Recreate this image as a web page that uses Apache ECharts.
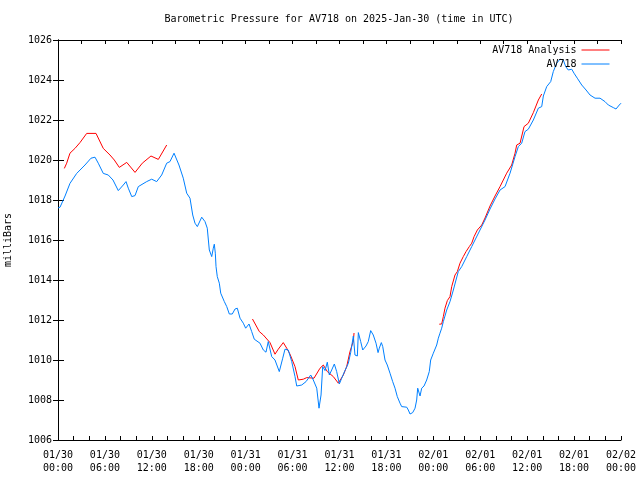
<!DOCTYPE html>
<html><head><meta charset="utf-8">
<script src="https://cdn.jsdelivr.net/npm/echarts@6/dist/echarts.min.js"></script>
<style>html,body{margin:0;padding:0;background:#fff}#c{width:640px;height:480px}</style>
</head><body><div id="c"></div>
<script>
var titleText = 'Barometric Pressure for AV718 on 2025-Jan-30 (time in UTC)';
var yAxisName = 'milliBars';
var seriesNames = ['AV718 Analysis', 'AV718'];
var tickLabels = ['01/30\n00:00','01/30\n06:00','01/30\n12:00','01/30\n18:00','01/31\n00:00','01/31\n06:00','01/31\n12:00','01/31\n18:00','02/01\n00:00','02/01\n06:00','02/01\n12:00','02/01\n18:00','02/02\n00:00'];

// hours since 2025-01-30 00:00 UTC
var blueHours = [
 0,0.26,0.9,1.53,2.39,3.45,4.22,4.73,5.15,5.79,
 6.43,7.03,7.71,8.35,8.70,8.99,9.43,9.85,10.27,11.34,
 11.98,12.62,13.26,13.9,14.32,14.84,15.47,16.02,16.46,16.88,
 17.23,17.52,17.82,18.38,18.8,19.09,19.35,19.66,19.86,19.99,
 20.12,20.21,20.37,20.63,20.81,21.06,21.27,21.58,21.91,22.29,
 22.64,22.93,23.28,23.7,24.0,24.43,24.77,25.1,25.83,26.26,
 26.6,26.89,27.33,27.75,28.3,28.74,29.03,29.45,29.89,30.31,
 30.53,31.17,31.72,32.32,32.65,33.09,33.38,33.64,33.85,34.15,
 34.44,34.7,35.0,35.34,35.64,35.98,36.28,36.7,37.13,37.43,
 37.77,37.98,38.28,38.41,38.71,38.97,39.39,39.68,39.99,40.32,
 40.67,40.93,41.09,41.35,41.53,41.82,42.11,42.46,42.8,43.1,
 43.39,43.74,43.95,44.6,44.8,45.02,45.36,45.66,45.87,46.0,
 46.3,46.51,46.81,47.15,47.48,47.66,48.0,48.43,48.64,48.85,
 49.07,49.28,49.37,49.71,50.13,50.56,50.9,51.19,51.63,52.27,
 52.91,53.33,53.97,54.61,55.25,55.89,56.53,57.17,57.81,58.45,
 58.87,59.3,59.72,60.15,60.79,61.43,61.86,62.07,62.5,63.01,
 63.34,63.78,64.2,64.62,64.93,65.26,65.7,65.99,66.41,66.98,
 67.53,68.04,68.68,69.32,69.95,70.38,71.02,71.36,71.78,72.0
];
var bluePressure = [
 1017.6,1017.64,1018.2,1018.83,1019.33,1019.75,1020.09,1020.14,1019.84,1019.33,
 1019.25,1019.0,1018.47,1018.75,1018.92,1018.59,1018.17,1018.22,1018.67,1018.92,
 1019.04,1018.92,1019.25,1019.84,1019.92,1020.34,1019.75,1019.09,1018.34,1018.09,
 1017.25,1016.84,1016.67,1017.14,1016.92,1016.59,1015.5,1015.17,1015.59,1015.79,
 1015.34,1014.67,1014.17,1013.84,1013.34,1013.34,1012.92,1012.67,1012.3,1012.3,
 1012.55,1012.59,1012.09,1011.84,1011.59,1011.8,1011.42,1011.04,1010.84,1010.5,
 1010.39,1010.92,1010.17,1010.0,1009.42,1010.09,1010.54,1010.5,1009.92,1009.17,
 1008.7,1008.75,1008.92,1009.25,1009.0,1008.59,1007.59,1008.25,1009.67,1009.47,
 1009.89,1009.25,1009.5,1009.8,1009.42,1008.8,1009.09,1009.47,1009.84,1010.37,
 1011.2,1010.25,1010.2,1011.37,1010.92,1010.5,1010.7,1010.92,1011.47,1011.25,
 1010.84,1010.37,1010.59,1010.87,1010.67,1010.0,1009.75,1009.34,1008.92,1008.59,
 1008.17,1007.84,1007.67,1007.64,1007.5,1007.3,1007.37,1007.59,1008.0,1008.59,
 1008.2,1008.59,1008.7,1009.0,1009.42,1010.0,1010.34,1010.75,1011.09,1011.34,
 1011.59,1011.92,1012.0,1012.5,1012.92,1013.5,1014.0,1014.42,1014.67,1015.17,
 1015.67,1016.0,1016.5,1017.0,1017.55,1018.05,1018.5,1018.67,1019.34,1020.17,
 1020.67,1020.84,1021.42,1021.54,1022.0,1022.59,1022.67,1023.2,1023.67,1023.92,
 1024.42,1024.84,1025.04,1025.0,1024.67,1024.5,1024.54,1024.34,1024.09,1023.75,
 1023.5,1023.25,1023.09,1023.09,1022.92,1022.75,1022.62,1022.55,1022.75,1022.84
];

// Analysis: three daily segments (null = gap)
var redHours = [
 0.81,1.11,1.53,2.17,2.81,3.67,4.86,5.79,6.65,7.2,
 7.84,8.79,9.85,10.78,11.89,12.83,13.9,
 19.0,
 24.87,25.75,26.26,27.11,27.75,28.17,28.81,29.25,29.67,30.31,
 30.73,31.37,31.81,32.74,33.51,33.93,34.44,35.21,35.85,36.49,
 36.92,37.34,37.77,37.86,
 43.0,
 48.76,49.07,49.28,49.49,49.79,50.13,50.35,50.77,51.07,51.41,
 51.83,52.18,52.6,52.91,53.21,53.63,54.19,54.61,55.25,55.89,
 56.53,57.38,58.02,58.45,58.66,59.09,59.6,60.15,60.79,61.43,61.86
];
var redPressure = [
 1019.58,1019.84,1020.34,1020.58,1020.87,1021.33,1021.33,1020.58,1020.25,1020.0,
 1019.63,1019.88,1019.38,1019.84,1020.2,1020.03,1020.75,
 null,
 1012.05,1011.42,1011.25,1010.87,1010.29,1010.54,1010.87,1010.59,1010.29,1009.67,
 1009.0,1009.04,1009.12,1009.09,1009.59,1009.75,1009.42,1009.17,1008.84,1009.25,
 1009.67,1010.42,1010.95,1011.35,
 null,
 1011.79,1011.8,1012.17,1012.59,1012.97,1013.17,1013.67,1014.25,1014.42,1014.84,
 1015.17,1015.42,1015.67,1015.84,1016.17,1016.5,1016.75,1017.1,1017.7,1018.2,
 1018.67,1019.34,1019.75,1020.34,1020.75,1020.84,1021.67,1021.84,1022.37,1023.0,1023.3
];

function zip(xs, ys){ return xs.map(function(x,i){ return [x, ys[i] === null ? '-' : ys[i]]; }); }

var FONT = 'DejaVu Sans Mono';
var chart = echarts.init(document.getElementById('c'), null, {renderer:'canvas'});
var axisLine = {show:true, lineStyle:{color:'#000', width:1}};
chart.setOption({
  animation:false,
  backgroundColor:'#fff',
  textStyle:{fontFamily:FONT},
  graphic:[{type:'text', x:339, y:14, style:{text:titleText, fontFamily:FONT, fontSize:10, fill:'#000', textAlign:'center', textVerticalAlign:'top'}}],
  legend:{
    orient:'vertical', right:25, top:40, align:'right',
    itemWidth:28, itemHeight:10, itemGap:4,
    itemStyle:{opacity:0},
    lineStyle:{width:1},
    textStyle:{fontFamily:FONT, fontSize:10, color:'#000'},
    data:seriesNames
  },
  grid:{left:58, right:19, top:40, bottom:40, containLabel:false, outerBoundsMode:'none'},
  xAxis:[
    {type:'value', position:'bottom', min:0, max:72, interval:6,
     axisLine:axisLine, splitLine:{show:false},
     axisTick:{show:true, inside:true, length:4, lineStyle:{color:'#000'}},
     minorTick:{show:true, splitNumber:3, length:4, lineStyle:{color:'#000'}},
     axisLabel:{fontFamily:FONT, fontSize:10, color:'#000', margin:9, lineHeight:13,
       formatter:function(v){ return tickLabels[Math.round(v/6)]; }}},
    {type:'value', position:'top', min:0, max:72, interval:3,
     axisLine:axisLine, splitLine:{show:false},
     axisTick:{show:true, inside:true, length:4, lineStyle:{color:'#000'}},
     axisLabel:{show:false}}
  ],
  yAxis:[
    {type:'value', position:'left', min:1006, max:1026, interval:2,
     name:yAxisName, nameLocation:'middle', nameRotate:90, nameGap:45,
     nameTextStyle:{fontFamily:FONT, fontSize:10, color:'#000'},
     axisLine:axisLine, splitLine:{show:false},
     axisTick:{show:true, inside:true, length:6, lineStyle:{color:'#000'}},
     axisLabel:{fontFamily:FONT, fontSize:10, color:'#000', margin:6,
       formatter:function(v){ return String(v); }}},
    {type:'value', position:'right', min:1006, max:1026, interval:2,
     axisLine:axisLine, splitLine:{show:false},
     axisTick:{show:true, inside:true, length:5, lineStyle:{color:'#000'}},
     axisLabel:{show:false}}
  ],
  series:[
    {name:seriesNames[0], type:'line', symbol:'none', connectNulls:false,
     lineStyle:{color:'#ff0000', width:1}, itemStyle:{color:'#ff0000'},
     data:zip(redHours, redPressure)},
    {name:seriesNames[1], type:'line', symbol:'none',
     lineStyle:{color:'#0080ff', width:1}, itemStyle:{color:'#0080ff'},
     data:zip(blueHours, bluePressure)}
  ]
});
</script></body></html>
